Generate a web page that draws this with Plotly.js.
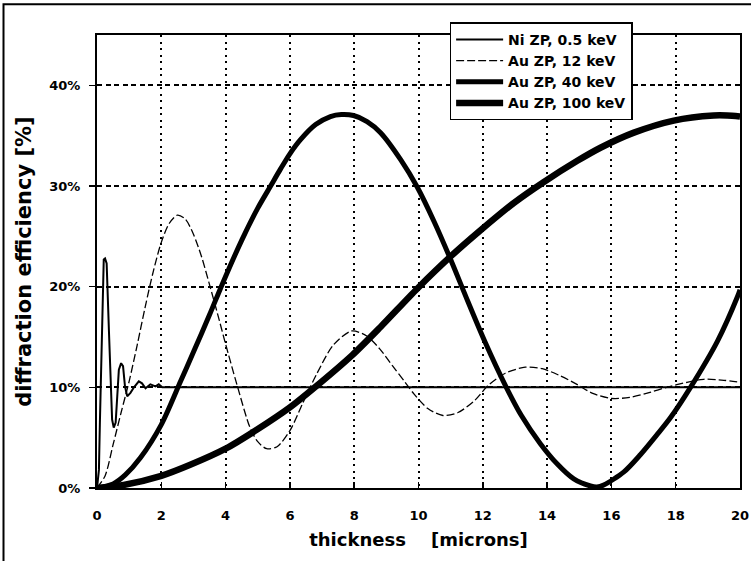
<!DOCTYPE html>
<html>
<head>
<meta charset="utf-8">
<script src="https://cdn.plot.ly/plotly-3.0.1.min.js"></script>
<style>html,body{margin:0;padding:0;background:#fff;}#chart{width:751px;height:561px;}</style>
</head>
<body>
<div id="chart"></div>
<script>
const seriesNames = ["Ni ZP, 0.5 keV", "Au ZP, 12 keV", "Au ZP, 40 keV", "Au ZP, 100 keV"];

const niX = [0,0.06,0.09,0.13,0.17,0.21,0.25,0.3,0.37,0.42,0.47,0.52,0.58,0.63,0.68,0.75,0.81,0.87,0.94,1.04,1.15,1.3,1.4,1.51,1.66,1.82,1.92,2.03,5,10,15,20];
const niY = [0,1.8,6.5,12.4,19,22.7,22.8,22.3,15.7,11.4,6.8,6.0,6.5,9.1,11.75,12.4,12.1,10.1,9.1,9.45,10.0,10.6,10.4,9.9,10.3,10.1,10.3,10,10,10,10,10];

const au12X = [0,0.25,0.5,0.75,1.0,1.25,1.5,1.75,2.0,2.25,2.5,2.75,3.0,3.25,3.5,3.75,4.0,4.35,4.76,5.0,5.28,5.6,6.0,6.41,6.83,7.35,7.92,8.39,8.8,9.2,9.56,9.87,10.29,10.76,11.23,11.75,12.17,12.7,13.32,13.85,14.37,14.9,15.42,16.0,16.57,17.2,17.72,18.35,18.87,19.5,20];
const au12Y = [0,1.2,4.3,7.5,10.6,14.2,18.0,21.5,24.4,26.3,27.1,26.7,25.2,23.0,20.2,17.3,14.3,10.3,6.0,4.6,3.9,4.1,5.7,8.5,11.3,14.2,15.6,15.1,13.8,12.1,10.6,9.3,7.9,7.2,7.5,8.7,10.2,11.4,12.0,11.85,11.2,10.35,9.4,8.9,9.0,9.5,10.0,10.5,10.8,10.7,10.5];

const au40X = [0,0.5,0.88,1.35,2,2.6,3.0,3.5,3.89,4.5,5.0,5.4,5.71,6.0,6.33,6.8,7.26,7.6,7.98,8.4,8.82,9.45,9.96,10.48,11.0,11.54,12.07,12.7,13.2,13.79,14.31,14.83,15.35,15.55,15.76,16.39,16.9,17.42,17.84,18.46,19.3,19.92,20];
const au40Y = [0,0.4,1.3,3.0,6.3,10.6,13.5,17.2,20.2,24.6,27.8,30.0,31.7,33.2,34.6,36.1,36.9,37.1,37.0,36.4,35.3,32.6,29.9,26.5,22.7,18.5,14.5,10.2,7.2,4.4,2.4,0.9,0.2,0.1,0.3,1.6,3.3,5.3,7.0,10.0,14.6,19.0,19.7];

const au100X = [0,0.83,2,2.9,4,4.98,6,6.74,7.94,8.82,9.96,11.0,11.93,12.96,13.9,14.94,15.66,16.7,17.94,19.18,19.6,20];
const au100Y = [0,0.3,1.2,2.3,3.9,5.8,8.0,9.9,13.2,16.0,19.8,23.0,25.6,28.3,30.4,32.5,33.8,35.3,36.5,37.0,37.0,36.9];

const xTicks = [0,2,4,6,8,10,12,14,16,18,20];
const yTicks = [0,10,20,30,40];

const FONT = "DejaVu Sans";

const traces = [
  {x: au100X, y: au100Y, name: seriesNames[3], mode: "lines", line: {color: "#000", width: 6.5, shape: "spline", smoothing: 0.8}},
  {x: au40X, y: au40Y, name: seriesNames[2], mode: "lines", line: {color: "#000", width: 5, shape: "spline", smoothing: 0.8}},
  {x: au12X, y: au12Y, name: seriesNames[1], mode: "lines", line: {color: "#000", width: 1.3, dash: "8px,3px", shape: "spline", smoothing: 0.8}},
  {x: niX, y: niY, name: seriesNames[0], mode: "lines", line: {color: "#000", width: 2}}
];

const layout = {
  width: 751, height: 561,
  margin: {l: 97, r: 11, t: 35, b: 73},
  paper_bgcolor: "#fff", plot_bgcolor: "#fff",
  font: {family: FONT, color: "#000", size: 13, weight: "bold"},
  showlegend: true,
  legend: {
    x: 0.833, xanchor: "right", y: 1.028, yanchor: "top",
    bgcolor: "#fff", bordercolor: "#000", borderwidth: 1.5,
    font: {family: FONT, size: 14, color: "#000", weight: "bold"},
    itemwidth: 47, traceorder: "reversed"
  },
  xaxis: {
    range: [0, 20], tickvals: xTicks, ticktext: xTicks.map(String),
    showgrid: true, gridcolor: "#000", gridwidth: 2, griddash: "2px,4.5px",
    zeroline: false, showline: true, linecolor: "#000", linewidth: 2, mirror: true,
    ticks: "inside", ticklen: 6, tickwidth: 1.5, tickcolor: "#000",
    ticklabelstandoff: 14,
    tickfont: {family: FONT, size: 13, weight: "bold"},
    title: {text: "thickness\u00a0\u00a0\u00a0\u00a0[microns]", font: {family: FONT, size: 18, weight: "bold"}, standoff: 12}
  },
  yaxis: {
    range: [0, 45], tickvals: yTicks, ticktext: yTicks.map(v => v + "%"),
    showgrid: true, gridcolor: "#000", gridwidth: 1.8, griddash: "5px,3.5px",
    zeroline: false, showline: true, linecolor: "#000", linewidth: 2, mirror: true,
    ticks: "outside", ticklen: 6, tickwidth: 1.5, tickcolor: "#000",
    ticklabelstandoff: 6,
    tickfont: {family: FONT, size: 13, weight: "bold"},
    title: {text: "diffraction efficiency [%]", font: {family: FONT, size: 21, weight: "bold"}, standoff: 12}
  },
  shapes: [
    {type: "rect", xref: "paper", yref: "paper", x0: -0.1454, x1: 1.2, y0: -0.3, y1: 1.068,
     line: {color: "#000", width: 2}, fillcolor: "rgba(0,0,0,0)", layer: "below"}
  ]
};

Plotly.newPlot("chart", traces, layout, {displayModeBar: false, staticPlot: true});
</script>
</body>
</html>
